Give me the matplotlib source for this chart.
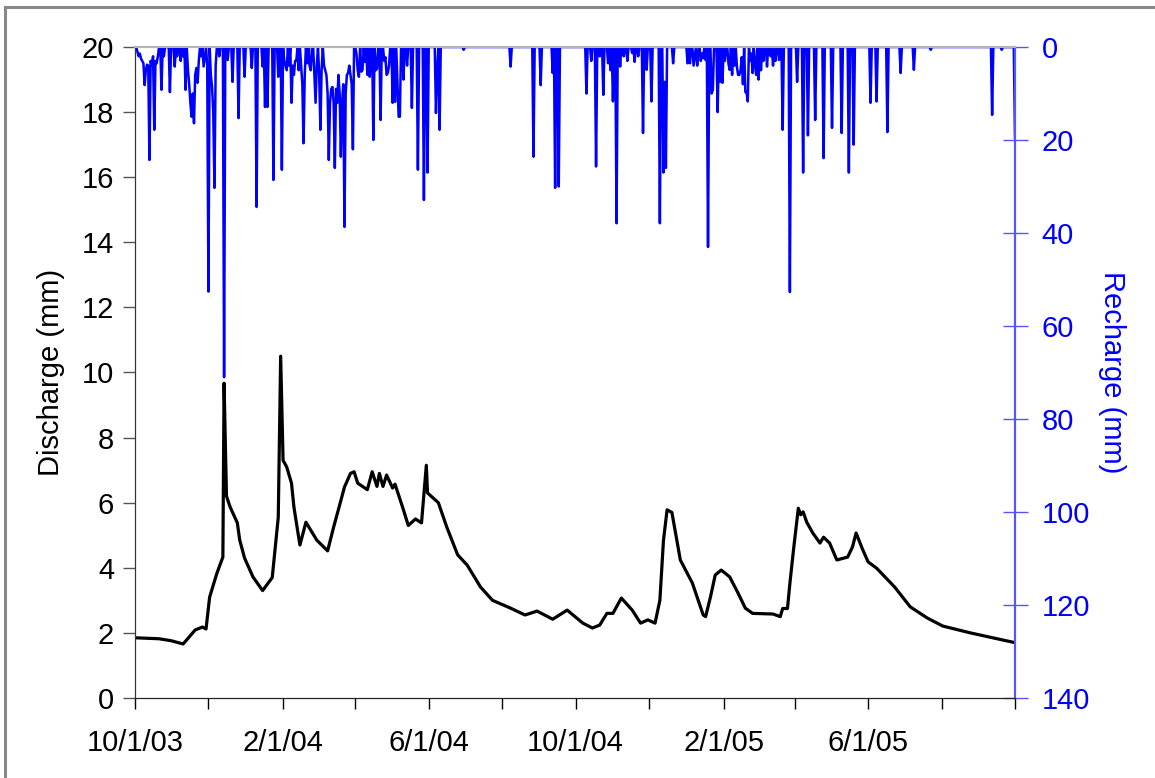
import pandas as pd
import matplotlib
matplotlib.use("Agg")
import matplotlib.pyplot as plt
import matplotlib.dates as mdates
from matplotlib.lines import Line2D
from matplotlib.ticker import FixedLocator, FixedFormatter

# --- DATA ---
START = "2003-10-01"
N_DAYS = 731

# discharge: days since 10/1/03 and value (mm)
dis_day = [0, 20, 30, 40, 50, 56, 59, 62, 68, 73, 74, 75, 76, 79, 85, 87, 91, 98, 106,
           114, 119, 121, 123, 126, 130, 132, 135, 137, 142, 151, 160, 165, 170, 174,
           179, 182, 185, 193, 197, 201, 203, 206, 209, 214, 216, 223, 227, 233, 238,
           242, 243, 252, 259, 268, 276, 287, 297, 312, 324, 334, 347, 359, 372, 380,
           386, 392, 397, 404, 413, 420, 426, 432, 436, 439, 442, 446, 453, 463, 472,
           474, 478, 482, 487, 494, 501, 507, 513, 530, 536, 538, 542, 544, 547, 551,
           553, 555, 558, 563, 569, 572, 577, 583, 592, 596, 599, 604, 609, 616, 623,
           631, 644, 658, 671, 694, 710, 731]
dis_val = [1.85, 1.82, 1.76, 1.66, 2.09, 2.18, 2.12, 3.1, 3.83, 4.33, 9.67, 7.9, 6.2,
           5.87, 5.38, 4.85, 4.3, 3.72, 3.3, 3.7, 5.55, 10.5, 7.3, 7.1, 6.6, 5.87, 5.16,
           4.7, 5.4, 4.85, 4.52, 5.25, 5.93, 6.48, 6.9, 6.95, 6.6, 6.4, 6.95, 6.5, 6.9,
           6.5, 6.85, 6.45, 6.57, 5.78, 5.3, 5.5, 5.38, 7.15, 6.3, 6.0, 5.25, 4.4, 4.08,
           3.41, 3.0, 2.76, 2.55, 2.67, 2.42, 2.7, 2.3, 2.15, 2.24, 2.6, 2.6, 3.07, 2.7,
           2.3, 2.4, 2.3, 3.0, 4.85, 5.78, 5.7, 4.24, 3.53, 2.55, 2.5, 3.1, 3.78, 3.93,
           3.72, 3.22, 2.76, 2.6, 2.58, 2.5, 2.75, 2.75, 3.52, 4.55, 5.83, 5.63, 5.72,
           5.4, 5.07, 4.76, 4.94, 4.76, 4.24, 4.33, 4.64, 5.07, 4.6, 4.18, 3.99, 3.72,
           3.41, 2.8, 2.46, 2.21, 2.0, 1.87, 1.7]

# recharge, low level between the spikes (days since 10/1/03, mm)
rch_low_day = [2, 3, 6, 9, 11, 13, 14, 15, 17, 19, 24, 35, 38, 40, 44, 45, 46, 48, 50,
               53, 55, 58, 60, 63, 67, 70, 124, 126, 128, 131, 132, 134, 138, 139, 141,
               145, 149, 151, 153, 155, 158, 160, 162, 163, 165, 167, 169, 170, 172, 173,
               175, 176, 178, 179, 180, 184, 186, 188, 191, 193, 195, 201, 208, 210, 214,
               216, 218, 220, 223, 226, 461, 464, 465, 468, 471, 474, 479, 484, 486, 488,
               493, 496, 500, 502, 504, 507, 509, 512, 513, 516, 518, 525, 528, 530, 532,
               535]
rch_low_val = [1, 2, 3, 5, 4, 3, 4, 2, 3, 2, 2, 2, 3, 2, 5, 8, 12, 10, 6, 3, 2, 2, 4, 6,
               4, 2, 3, 5, 4, 4, 6, 3, 4, 8, 6, 4, 6, 4, 6, 5, 5, 10, 12, 9, 12, 9, 6, 10,
               12, 8, 10, 6, 4, 6, 8, 1.5, 6.4, 5.3, 3.2, 5.3, 6.4, 4.7, 2.2, 5.6, 9.6,
               11.8, 7.5, 15, 3.6, 0.8, 3.5, 4, 1.4, 0.7, 1.4, 2.8, 10, 14, 7.5, 7.2, 3.6,
               5, 4.3, 6, 2.2, 9.7, 11.5, 1.4, 5.6, 6, 7, 4, 1.8, 1.8, 0.7, 2.8]

# recharge spikes (days since 10/1/03, mm)
rch_day = [4, 5, 7, 8, 10, 12, 16, 18, 22, 29, 33, 42, 47, 49, 51, 52, 57, 61, 64, 65,
           66, 74, 77, 81, 86, 91, 97, 101, 106, 108, 110, 115, 119, 122, 125, 130, 133,
           136, 140, 143, 146, 150, 154, 157, 159, 161, 164, 166, 168, 171, 174, 177, 181,
           185, 189, 193, 195, 198, 200, 204, 207, 209, 211, 214, 216, 219, 223, 226, 230,
           235, 240, 243, 250, 251, 253, 273, 312, 331, 337, 347, 349, 352, 375, 379, 383,
           386, 389, 393, 395, 397, 400, 403, 406, 409, 413, 415, 418, 422, 425, 429, 436,
           439, 440, 441, 447, 459, 464, 465, 467, 470, 472, 476, 479, 480, 484, 488, 490,
           494, 496, 498, 501, 503, 505, 508, 509, 511, 513, 515, 518, 520, 522, 525, 528,
           530, 532, 538, 544, 550, 555, 559, 565, 572, 579, 587, 593, 597, 611, 616, 625,
           636, 647, 661, 712, 720, 731]
rch_val = [1.4, 2.5, 3.5, 8.2, 3.8, 24.3, 17.8, 3.5, 9.2, 9.7, 4.2, 9.2, 15, 16.4, 4.5,
           7.7, 4.2, 52.6, 8.6, 14, 30.3, 71, 2.8, 7.5, 15.3, 6.4, 4.5, 34.4, 4.2, 12.9,
           12.9, 28.6, 6.4, 26.4, 4, 12, 3, 5, 20.7, 3.5, 5, 12, 17.8, 4, 6, 24.3, 8.6, 26,
           12, 23.6, 38.7, 5.6, 22, 5, 4.9, 6, 4, 20, 5, 15.7, 3, 6, 4, 12, 8, 15, 7, 4,
           13.1, 26.4, 32.9, 27, 14.2, 5, 17.8, 0.6, 4.2, 23.6, 8.2, 5.6, 30.3, 30, 10, 3,
           25.7, 2, 10.3, 3.5, 5, 11.7, 37.9, 4.2, 2, 3, 1.3, 3.2, 2, 18.5, 4.9, 11.7,
           37.9, 27, 7.5, 26, 3.5, 3.5, 3.9, 2, 4, 3, 2.4, 43, 10, 9.2, 14, 7.7, 3, 4.9, 6,
           4, 6, 5, 8, 9.7, 11.7, 3, 5.6, 4, 7, 5, 3, 4.2, 2, 4, 3, 17.8, 52.7, 7.5, 27, 19,
           15.7, 23.9, 17.4, 18.5, 27, 21, 12, 11.7, 18.3, 5.6, 4.9, 0.6, 14.6, 0.6, 19.5]

tick_dates = ["2003-10-01", "2003-12-01", "2004-02-01", "2004-04-01", "2004-06-01",
              "2004-08-01", "2004-10-01", "2004-12-01", "2005-02-01", "2005-04-01",
              "2005-06-01", "2005-08-01", "2005-10-01"]
tick_labels = ["10/1/03", "", "2/1/04", "", "6/1/04", "", "10/1/04", "", "2/1/05", "",
               "6/1/05", "", ""]

# --- BUILD SERIES ---
t0 = pd.Timestamp(START)
dis_dates = t0 + pd.to_timedelta(dis_day, unit="D")

rch = pd.Series(0.0, index=range(N_DAYS + 1))
for d, v in zip(rch_low_day, rch_low_val):
    rch[d] = v
for d, v in zip(rch_day, rch_val):
    rch[d] = max(rch[d], v)
rch_dates = t0 + pd.to_timedelta(rch.index, unit="D")

# --- PLOT ---
plt.rcParams['font.family'] = ['Liberation Sans', 'DejaVu Sans']
BLUE = '#0000ff'
FS = 21

fig = plt.figure(figsize=(11.55, 7.78), dpi=100)
ax = fig.add_axes([135 / 1155, 1 - 698 / 778, 880 / 1155, 651 / 778])
ax2 = ax.twinx()

ax.plot(dis_dates, dis_val, color='black', linewidth=2.3, zorder=3)
ax2.plot(rch_dates, rch.values, color=BLUE, linewidth=1.8)

ax.set_xlim(t0, t0 + pd.Timedelta(days=N_DAYS))
ax.set_ylim(0, 20)
ax.set_yticks(range(0, 21, 2))
ax2.set_ylim(140, 0)
ax2.set_yticks(range(0, 141, 20))

ticks = [mdates.date2num(pd.Timestamp(d)) for d in tick_dates]
ax.xaxis.set_major_locator(FixedLocator(ticks))
ax.xaxis.set_major_formatter(FixedFormatter(tick_labels))

ax.tick_params(axis='x', direction='out', length=8, width=1, labelsize=FS, pad=14)
ax.tick_params(axis='y', direction='out', length=9, width=1, labelsize=FS, pad=6,
               color='#555555')
ax2.tick_params(axis='y', direction='inout', length=18, width=1, labelsize=FS, pad=10,
                colors=BLUE, color='#5555ff')

ax.set_ylabel("Discharge (mm)", fontsize=FS, labelpad=12)
ax2.set_ylabel("Recharge (mm)", fontsize=FS, color=BLUE, rotation=270, labelpad=26)

for a in (ax, ax2):
    a.spines['top'].set_color('#b4b4b4')
    a.spines['top'].set_linewidth(1.5)
    a.spines['left'].set_color('#333333')
    a.spines['bottom'].set_color('#222222')
    a.spines['right'].set_color('#5555ff')
    a.spines['right'].set_linewidth(1.5)

# outer chart border (left and top visible)
fig.add_artist(Line2D([5 / 1155, 5 / 1155], [0, 1 - 7 / 778], color='#888888',
                      linewidth=2.2, transform=fig.transFigure))
fig.add_artist(Line2D([5 / 1155, 1], [1 - 7 / 778, 1 - 7 / 778], color='#888888',
                      linewidth=2.2, transform=fig.transFigure))

fig.savefig("out.png", dpi=100)
